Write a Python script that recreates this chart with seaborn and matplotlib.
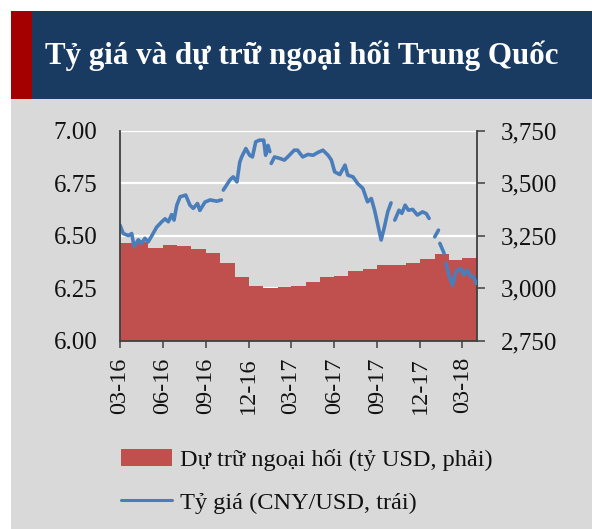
import numpy as np
import pandas as pd
import matplotlib
matplotlib.use('Agg')
import matplotlib.pyplot as plt
import matplotlib.ticker as mticker
import matplotlib.dates as mdates
from matplotlib.patches import Rectangle, Patch
from matplotlib.lines import Line2D
import seaborn as sns

# Dự trữ ngoại hối (tỷ USD), theo tháng 03-16 -> 03-18
reserve_months = pd.date_range('2016-03-01', '2018-03-01', freq='MS')
reserves = [3212.6, 3219.7, 3191.7, 3205.2, 3201.1, 3185.2, 3166.4, 3120.7,
            3051.6, 3010.5, 2998.2, 3005.1, 3009.1, 3029.5, 3053.6, 3056.8,
            3080.7, 3091.5, 3108.5, 3109.2, 3119.3, 3139.9, 3161.5, 3134.5,
            3142.8]

# Tỷ giá CNY/USD (NaN = chỗ đứt của đường)
rate_dates = [
    '2016-03-02', '2016-03-09', '2016-03-20', '2016-03-27', '2016-04-01',
    '2016-04-10', '2016-04-17', '2016-04-24', '2016-05-01', '2016-05-09',
    '2016-05-19', '2016-05-30', '2016-06-06', '2016-06-13', '2016-06-20',
    '2016-06-25', '2016-07-01', '2016-07-08', '2016-07-20', '2016-07-29',
    '2016-08-05', '2016-08-14', '2016-08-19', '2016-08-30', '2016-09-10',
    '2016-09-24', '2016-10-04', '2016-10-06', '2016-10-08', '2016-10-22',
    '2016-10-29', '2016-11-06', '2016-11-12', '2016-11-16', '2016-11-25',
    '2016-12-03', '2016-12-09', '2016-12-16', '2016-12-24', '2017-01-02',
    '2017-01-06', '2017-01-11', '2017-01-15', '2017-01-16', '2017-01-18',
    '2017-01-25', '2017-02-05', '2017-02-15', '2017-02-22', '2017-03-08',
    '2017-03-15', '2017-03-26', '2017-04-06', '2017-04-17', '2017-04-27',
    '2017-05-08', '2017-05-19', '2017-05-26', '2017-06-02', '2017-06-13',
    '2017-06-24', '2017-06-30', '2017-07-11', '2017-07-21', '2017-08-01',
    '2017-08-11', '2017-08-19', '2017-08-26', '2017-09-02', '2017-09-09',
    '2017-09-16', '2017-09-23', '2017-09-30', '2017-10-04', '2017-10-08',
    '2017-10-17', '2017-10-23', '2017-10-30', '2017-11-06', '2017-11-15',
    '2017-11-25', '2017-12-06', '2017-12-14', '2017-12-20', '2017-12-21',
    '2017-12-27', '2017-12-29', '2018-01-01', '2018-01-09', '2018-01-10',
    '2018-01-12', '2018-01-21', '2018-01-23', '2018-01-25', '2018-01-31',
    '2018-02-08', '2018-02-15', '2018-02-25', '2018-03-04', '2018-03-11',
    '2018-03-18', '2018-03-25', '2018-03-30']
rate_values = [
    6.55, 6.51, 6.50, 6.51, 6.447,
    6.48, 6.463, 6.487, 6.47, 6.50,
    6.54, 6.566, 6.58, 6.566, 6.60,
    6.574, 6.645, 6.685, 6.693, 6.645,
    6.63, 6.653, 6.62, 6.66, 6.67,
    6.664, 6.67, np.nan, 6.717, 6.765,
    6.78, 6.756, 6.85, 6.875, 6.915,
    6.883, 6.875, 6.947, 6.955, 6.955,
    6.883, 6.93, 6.90, np.nan, 6.844,
    6.875, 6.868, 6.86, 6.875, 6.907,
    6.907, 6.875, 6.887, 6.883, 6.896,
    6.907, 6.883, 6.86, 6.804, 6.791,
    6.836, 6.788, 6.78, 6.748, 6.725,
    6.661, 6.677, 6.621, 6.55, 6.479,
    6.542, 6.613, 6.656, np.nan, 6.574,
    6.621, 6.606, 6.645, 6.621, 6.625,
    6.598, 6.613, 6.605, 6.582, np.nan,
    6.534, np.nan, 6.494, 6.526, np.nan,
    6.463, 6.415, np.nan, 6.368, 6.312,
    6.264, 6.328, 6.344, 6.312, 6.336,
    6.307, 6.304, 6.272]

left_ticks = [6.00, 6.25, 6.50, 6.75, 7.00]
right_ticks = [2750, 3000, 3250, 3500, 3750]
x_ticks = pd.date_range('2016-03-01', '2018-03-01', freq='3MS')

title = 'Tỷ giá và dự trữ ngoại hối Trung Quốc'
label_reserve = 'Dự trữ ngoại hối (tỷ USD, phải)'
label_rate = 'Tỷ giá (CNY/USD, trái)'

bg = '#d9d9d9'
bar_color = '#c0504d'
line_color = '#4a7ebb'
navy = '#193a61'
dark_red = '#a50000'
spine_color = '#404040'

sns.set_theme(style='white')
plt.rcParams['font.family'] = ['Liberation Serif', 'DejaVu Serif']

fig = plt.figure(figsize=(5.92, 5.29), dpi=100)
fig.patch.set_facecolor('white')

# cadre gris + bandeau du titre
fig.add_artist(Rectangle((11 / 592, 0), 1, 1 - 11 / 529, transform=fig.transFigure,
                         facecolor=bg, edgecolor='none', zorder=0))
fig.add_artist(Rectangle((32 / 592, 1 - 99 / 529), 1, 88 / 529, transform=fig.transFigure,
                         facecolor=navy, edgecolor='none', zorder=0))
fig.add_artist(Rectangle((11 / 592, 1 - 99 / 529), 21 / 592, 88 / 529, transform=fig.transFigure,
                         facecolor=dark_red, edgecolor='none', zorder=0))
fig.text(45 / 592, 1 - 56 / 529, title, color='white', fontsize=22.3, fontweight='bold',
         va='center', ha='left')

ax = fig.add_axes([119.5 / 592, 1 - 340.5 / 529, 357.5 / 592, 209.8 / 529])
ax2 = ax.twinx()
ax.set_zorder(ax2.get_zorder() + 1)
ax.patch.set_visible(False)
ax2.patch.set_visible(False)

# dự trữ: vùng bậc thang trên trục phải
step_x = list(reserve_months) + [reserve_months[-1] + pd.offsets.MonthBegin(1)]
step_y = reserves + [reserves[-1]]
ax2.fill_between(step_x, step_y, 0, step='post', color=bar_color, linewidth=0, zorder=2)
ax2.set_ylim(right_ticks[0], right_ticks[-1])
ax2.set_yticks(right_ticks)
ax2.yaxis.set_major_formatter(mticker.FuncFormatter(lambda v, p: f'{v:,.0f}'))
ax2.yaxis.grid(True, color='white', linewidth=1.6)
ax2.set_axisbelow(True)

# tỷ giá: đường trên trục trái
df = pd.DataFrame({'date': pd.to_datetime(rate_dates), 'rate': rate_values})
df['seg'] = df['rate'].isna().cumsum()
df = df.dropna()
sns.lineplot(data=df, x='date', y='rate', units='seg', estimator=None,
             color=line_color, linewidth=2.6, ax=ax, legend=False)
ax.set_ylim(left_ticks[0], left_ticks[-1])
ax.set_yticks(left_ticks)
ax.yaxis.set_major_formatter(mticker.FormatStrFormatter('%.2f'))
ax.set_xlim(step_x[0], step_x[-1])
ax.set_xticks(x_ticks)
ax.xaxis.set_major_formatter(mdates.DateFormatter('%m-%y'))
ax.set_xlabel('')
ax.set_ylabel('')

for a in (ax, ax2):
    for s in a.spines.values():
        s.set_visible(False)
ax.spines['left'].set_visible(True)
ax.spines['bottom'].set_visible(True)
ax2.spines['right'].set_visible(True)
for s in (ax.spines['left'], ax.spines['bottom'], ax2.spines['right']):
    s.set_color(spine_color)
    s.set_linewidth(1.3)

ax.tick_params(axis='y', length=0, pad=16, labelsize=18, labelcolor='#111111')
ax.tick_params(axis='x', length=5, width=1.1, color=spine_color, direction='out',
               pad=7, labelsize=17.5, labelrotation=90, labelcolor='#111111', bottom=True)
ax2.tick_params(axis='y', length=6, width=1.1, color=spine_color, direction='out',
                pad=11, labelsize=18, labelcolor='#111111', right=True)

handles = [Patch(facecolor=bar_color, edgecolor='none'),
           Line2D([0], [0], color=line_color, linewidth=2.2)]
fig.legend(handles, [label_reserve, label_rate], loc='upper left',
           bbox_to_anchor=(121 / 592, 1 - 449 / 529), frameon=False, fontsize=17.6,
           borderpad=0, borderaxespad=0, handlelength=2.1, handletextpad=0.3,
           labelspacing=0.85, labelcolor='#111111')

plt.savefig('out.png', dpi=100, facecolor=fig.get_facecolor())
